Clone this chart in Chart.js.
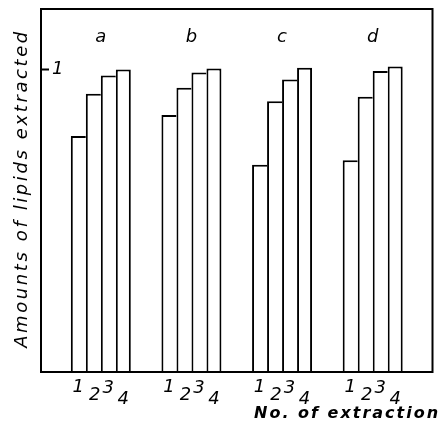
<!DOCTYPE html>
<html><head><meta charset="utf-8">
<script src="https://cdn.jsdelivr.net/npm/chart.js@4/dist/chart.umd.min.js"></script>
<style>html,body{margin:0;padding:0;background:#fff}#wrap{width:438px;height:428px}</style>
</head><body><div id="wrap"><canvas id="c" width="438" height="428"></canvas></div>
<script>
const groups = ['a', 'b', 'c', 'd'];
const groupPos = [1, 2, 3, 4];
const extractionLabels = ['1', '2', '3', '4'];
const extraction1 = [0.78, 0.85, 0.685, 0.70];
const extraction2 = [0.92, 0.94, 0.895, 0.91];
const extraction3 = [0.98, 0.99, 0.967, 0.995];
const extraction4 = [1.0, 1.003, 1.006, 1.01];
const yTicks = [1];
const yTickLabels = ['1'];
const yTitle = 'Amounts of lipids extracted';
const xTitle = 'No. of extraction';

const series = [extraction1, extraction2, extraction3, extraction4];
const labelDrop = [0, 8.5, 1, 12.5];

const decor = {
  id: 'decor',
  afterDatasetsDraw(chart) {
    const ctx = chart.ctx, a = chart.chartArea;
    const xs = chart.scales.x, ys = chart.scales.y;
    ctx.save();
    ctx.strokeStyle = '#000';
    ctx.lineWidth = 2;
    ctx.strokeRect(a.left, a.top, a.right - a.left, a.bottom - a.top);
    ctx.fillStyle = '#000';
    // y ticks (inside)
    yTicks.forEach((v, i) => {
      const y = ys.getPixelForValue(v);
      ctx.beginPath(); ctx.moveTo(a.left, y); ctx.lineTo(a.left + 8, y); ctx.stroke();
      ctx.font = 'oblique 18px "DejaVu Sans"';
      ctx.textAlign = 'left'; ctx.textBaseline = 'middle';
      ctx.fillText(yTickLabels[i], a.left + 11, y);
    });
    // group letters
    ctx.font = 'oblique 18px "DejaVu Sans"';
    ctx.textAlign = 'center'; ctx.textBaseline = 'alphabetic';
    groups.forEach((g, j) => {
      ctx.fillText(g, xs.getPixelForValue(groupPos[j]), 42);
    });
    // extraction labels under bars
    ctx.font = 'oblique 18px "DejaVu Sans"';
    ctx.textBaseline = 'middle';
    series.forEach((s, i) => {
      chart.getDatasetMeta(i).data.forEach(bar => {
        ctx.fillText(extractionLabels[i], bar.x + (i === 1 ? 1.5 : 0), a.bottom + 15 + labelDrop[i]);
      });
    });
    // x title
    ctx.font = 'oblique bold 16px "DejaVu Sans"';
    ctx.letterSpacing = '2px';
    ctx.textAlign = 'left'; ctx.textBaseline = 'alphabetic';
    ctx.fillText(xTitle, 254, 418);
    // y title
    ctx.translate(27, (a.top + a.bottom) / 2 - 2);
    ctx.rotate(-Math.PI / 2);
    ctx.font = 'oblique 18px "DejaVu Sans"';
    ctx.letterSpacing = '2.6px';
    ctx.textAlign = 'center';
    ctx.fillText(yTitle, 0, 0);
    ctx.restore();
  }
};

new Chart(document.getElementById('c'), {
  type: 'bar',
  data: {
    datasets: series.map((s, i) => ({
      label: 'Extraction ' + extractionLabels[i],
      data: s.map((v, j) => ({ x: groupPos[j], y: v })),
      backgroundColor: '#fff',
      borderColor: '#000',
      borderWidth: { left: 2, top: 2, right: i === series.length - 1 ? 2 : 0, bottom: 0 },
      borderSkipped: false,
      categoryPercentage: 0.662,
      barPercentage: 1.0
    }))
  },
  options: {
    responsive: false,
    animation: false,
    layout: { padding: { left: 41, top: 9, right: 5.5, bottom: 56 } },
    plugins: { legend: { display: false }, tooltip: { enabled: false } },
    scales: {
      x: {
        type: 'linear', min: 0.34, max: 4.66, display: false, offset: false,
        afterBuildTicks(scale) { scale.ticks = groupPos.map(v => ({ value: v })); }
      },
      y: { min: 0, max: 1.2, display: false }
    }
  },
  plugins: [decor]
});
</script></body></html>
